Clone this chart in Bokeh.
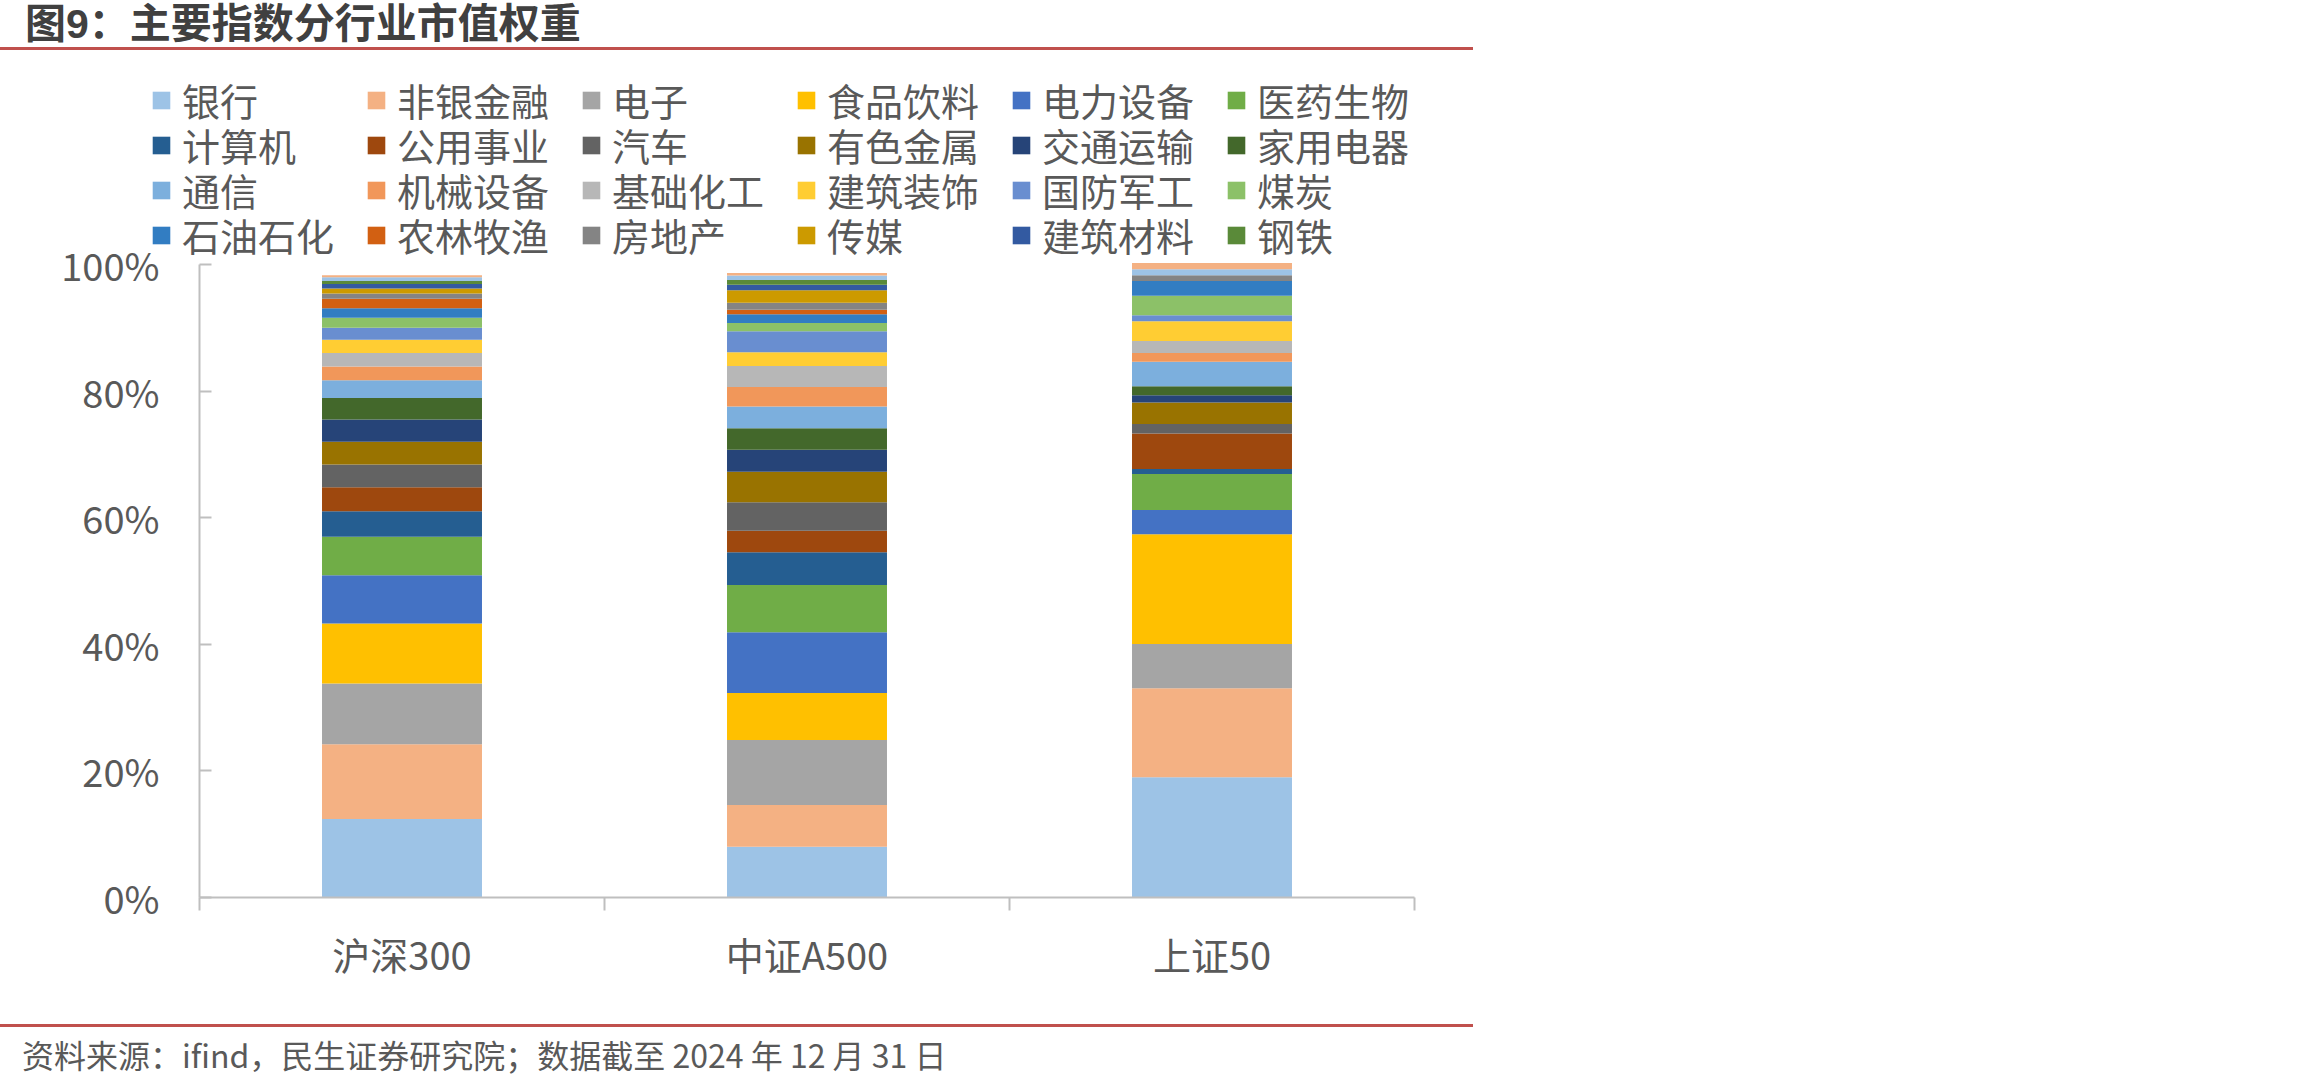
from bokeh.plotting import figure
from bokeh.layouts import column
from bokeh.models import (ColumnDataSource, Range1d, FixedTicker, PrintfTickFormatter,
                          Legend, LegendItem, Div)
from bokeh.embed import file_html
from bokeh.resources import INLINE

# ---------------- data ----------------
categories = ["沪深300", "中证A500", "上证50"]
industries = ["银行", "非银金融", "电子", "食品饮料", "电力设备", "医药生物",
              "计算机", "公用事业", "汽车", "有色金属", "交通运输", "家用电器",
              "通信", "机械设备", "基础化工", "建筑装饰", "国防军工", "煤炭",
              "石油石化", "农林牧渔", "房地产", "传媒", "建筑材料", "钢铁",
              "其他行业1", "其他行业2"]
legend_count = 24  # the remaining series are not listed in the legend
hs300 = [12.4, 11.8, 9.6, 9.5, 7.6, 6.1, 4.0, 3.8, 3.6, 3.6, 3.5, 3.4,
         2.8, 2.2, 2.1, 2.1, 1.9, 1.6, 1.5, 1.5, 0.8, 0.8, 0.7, 0.5, 0.6, 0.3]
zz_a500 = [8.0, 6.6, 10.3, 7.4, 9.6, 7.45, 5.2, 3.4, 4.5, 4.8, 3.5, 3.4,
           3.4, 3.1, 3.3, 2.2, 3.3, 1.3, 1.4, 0.7, 1.1, 2.0, 0.85, 0.75, 0.7, 0.4]
sz50 = [19.0, 14.05, 7.0, 17.35, 3.8, 5.7, 0.8, 5.6, 1.5, 3.4, 1.15, 1.4,
        3.9, 1.35, 1.9, 3.15, 0.95, 3.05, 2.35, 0.0, 0.9, 0.0, 0.0, 0.0, 0.95, 1.0]
colors = ["#9DC3E6", "#F4B183", "#A5A5A5", "#FFC000", "#4472C4", "#70AD47",
          "#255E91", "#9E480E", "#636363", "#997300", "#264478", "#43682B",
          "#7CAFDD", "#F1975A", "#B7B7B7", "#FFCD33", "#698ED0", "#8CC168",
          "#327DC2", "#D26012", "#848484", "#CC9A00", "#335AA1", "#5A8A39",
          "#9DC3E6", "#F4B183"]
y_ticks = [0, 20, 40, 60, 80, 100]
title_text = "图9：主要指数分行业市值权重"
source_text = "资料来源：ifind，民生证券研究院；数据截至 2024 年 12 月 31 日"

FONT = "Noto Sans CJK SC"
TXT = "#595959"
RED = "#C0504D"
W = 2310
RULE_W = 1473

# ---------------- page geometry (pixels) ----------------
HEAD_H = 50          # header block (title + red rule)
FOOT_TOP = 1015      # footer block starts here
AXIS_X = 199         # y axis line
Y0_PX, Y100_PX = 897, 264
CAT_PX = 405         # width of one category slot
FRAME_RIGHT = 1480
MAIN_H = FOOT_TOP - HEAD_H

px_per_unit_y = (Y0_PX - Y100_PX) / 100.0
y_start = -(FOOT_TOP - Y0_PX) / px_per_unit_y
y_end = (Y0_PX - HEAD_H) / px_per_unit_y
x_start = -AXIS_X / CAT_PX
x_end = (FRAME_RIGHT - AXIS_X) / CAT_PX

# ---------------- header ----------------
head = Div(text=(f'<div style="width:{RULE_W}px;height:{HEAD_H - 3}px;'
                 f'border-bottom:3px solid {RED};box-sizing:content-box;'
                 f'font-family:\'Liberation Sans\',\'{FONT}\';font-weight:bold;font-size:41px;'
                 f'color:#404040;line-height:{HEAD_H - 2}px;overflow:visible;'
                 f'text-indent:25px;white-space:nowrap;">'
                 f'{title_text}</div>'),
           width=W, height=HEAD_H, margin=0)

# ---------------- main chart ----------------
data = {"x": [i + 0.5 for i in range(len(categories))]}
for k, name in enumerate(industries):
    data[name] = [hs300[k], zz_a500[k], sz50[k]]
source = ColumnDataSource(data)

p = figure(width=W, height=MAIN_H, output_backend="svg", toolbar_location=None,
           x_range=Range1d(x_start, x_end), y_range=Range1d(y_start, y_end),
           min_border_left=0, min_border_right=W - FRAME_RIGHT,
           min_border_top=0, min_border_bottom=0,
           title=None)
p.outline_line_color = None
p.xgrid.visible = False
p.ygrid.visible = False

renderers = p.vbar_stack(industries, x="x", width=0.395, color=colors,
                         line_color=None, source=source)

# y axis, pinned at x = 0
p.yaxis.fixed_location = 0
p.yaxis.bounds = (0, 100)
p.yaxis.ticker = FixedTicker(ticks=y_ticks, minor_ticks=[])
p.yaxis.formatter = PrintfTickFormatter(format="%d%%")
p.yaxis.axis_line_color = "#BFBFBF"
p.yaxis.axis_line_width = 2
p.yaxis.major_tick_line_color = "#BFBFBF"
p.yaxis.major_tick_line_width = 2
p.yaxis.major_tick_in = 12
p.yaxis.major_tick_out = 0
p.yaxis.minor_tick_line_color = None
p.yaxis.major_label_standoff = 40
p.yaxis.major_label_text_font = FONT
p.yaxis.major_label_text_font_size = "38px"
p.yaxis.major_label_text_color = TXT

# x axis pinned at y = 0: labels at centres, tick marks at category boundaries
centres = [i + 0.5 for i in range(len(categories))]
bounds = [float(i) for i in range(len(categories) + 1)]
p.xaxis.fixed_location = 0
p.xaxis.bounds = (0, len(categories))
p.xaxis.ticker = FixedTicker(ticks=centres, minor_ticks=bounds)
p.xaxis.major_label_overrides = {c: lab for c, lab in zip(centres, categories)}
p.xaxis.axis_line_color = "#BFBFBF"
p.xaxis.axis_line_width = 2
p.xaxis.major_tick_line_color = None
p.xaxis.major_tick_in = 0
p.xaxis.major_tick_out = 0
p.xaxis.minor_tick_line_color = "#BFBFBF"
p.xaxis.minor_tick_line_width = 2
p.xaxis.minor_tick_in = 0
p.xaxis.minor_tick_out = 13
p.xaxis.major_label_standoff = 15
p.xaxis.major_label_text_font = FONT
p.xaxis.major_label_text_font_size = "38px"
p.xaxis.major_label_text_color = TXT

# legend: 4 rows x 6 columns, one Legend per row so the row pitch matches
LEG_COLS = 6
LEG_ROW1_CENTER = 99.5   # page y of the first row's centre
LEG_ROW_PITCH = 45
LEG_ROW_H = 55           # height Bokeh gives a 38px label row
LEG_SPACING = 3
for row in range(legend_count // LEG_COLS):
    row_items = [LegendItem(label=industries[k], renderers=[renderers[k]])
                 for k in range(row * LEG_COLS, (row + 1) * LEG_COLS)]
    centre_y = LEG_ROW1_CENTER + row * LEG_ROW_PITCH
    leg = Legend(items=row_items, orientation="horizontal",
                 location=(150, FOOT_TOP - (centre_y + LEG_ROW_H / 2)),
                 padding=0, margin=0, spacing=LEG_SPACING,
                 glyph_width=22, glyph_height=22, label_standoff=10,
                 label_width=215 - 22 - 10 - LEG_SPACING, label_height=36,
                 label_text_font=FONT, label_text_font_size="38px",
                 label_text_color=TXT, background_fill_alpha=0,
                 border_line_color=None)
    p.add_layout(leg, "center")

# ---------------- footer ----------------
foot = Div(text=(f'<div style="width:{RULE_W}px;height:0px;'
                 f'border-top:3px solid {RED};margin-top:9px;"></div>'
                 f'<div style="font-family:\'{FONT}\';font-size:32px;color:{TXT};'
                 f'line-height:54px;padding-left:22px;white-space:nowrap;">'
                 f'{source_text}</div>'),
           width=W, height=1086 - FOOT_TOP, margin=0)

layout = column(head, p, foot, spacing=0)
open("out.html", "w").write(file_html(layout, INLINE))
